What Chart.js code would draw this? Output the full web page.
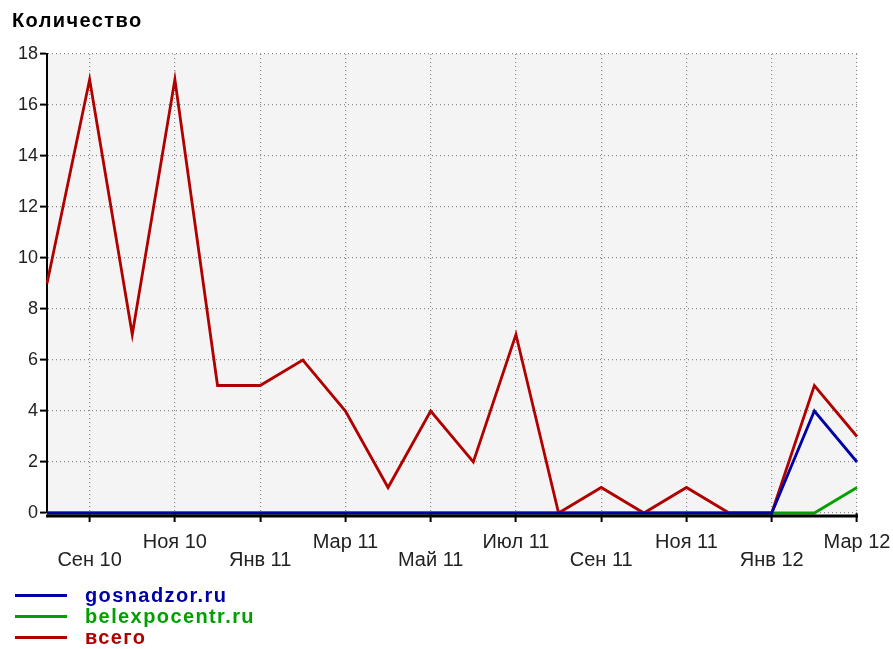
<!DOCTYPE html>
<html>
<head>
<meta charset="utf-8">
<script src="https://cdn.jsdelivr.net/npm/chart.js@4.4.1/dist/chart.umd.min.js"></script>
<style>
  html, body { margin: 0; padding: 0; background: #fff; }
  #wrap { position: relative; width: 893px; height: 649px; }
  #chart { position: absolute; left: 0; top: 0; }
  #title {
    position: absolute; left: 12px; top: 9px;
    font: bold 20px "Liberation Sans", Arial, sans-serif;
    letter-spacing: 1.4px; color: #000;
  }
  #legend { position: absolute; left: 15px; top: 585px; }
  .item { height: 21px; display: flex; align-items: center; }
  .swatch { width: 52px; height: 3px; margin-right: 18px; }
  .label { font: bold 20px "Liberation Sans", Arial, sans-serif; letter-spacing: 1.4px; line-height: 21px; }
</style>
</head>
<body>
<div id="wrap">
  <canvas id="chart" width="893" height="649"></canvas>
  <div id="title">Количество</div>
  <div id="legend"></div>
</div>
<script>
// Monthly counts, Aug 2010 – Mar 2012
const months = ["Авг 10", "Сен 10", "Окт 10", "Ноя 10", "Дек 10", "Янв 11", "Фев 11", "Мар 11", "Апр 11", "Май 11",
                "Июн 11", "Июл 11", "Авг 11", "Сен 11", "Окт 11", "Ноя 11", "Дек 11", "Янв 12", "Фев 12", "Мар 12"];
const gosnadzor    = [0, 0, 0, 0, 0, 0, 0, 0, 0, 0, 0, 0, 0, 0, 0, 0, 0, 0, 4, 2];
const belexpocentr = [0, 0, 0, 0, 0, 0, 0, 0, 0, 0, 0, 0, 0, 0, 0, 0, 0, 0, 0, 1];
const total        = [9, 17, 7, 17, 5, 5, 6, 4, 1, 4, 2, 7, 0, 1, 0, 1, 0, 0, 5, 3];
// Labelled months on the time axis (every second month)
const tickMonths = ["Сен 10", "Ноя 10", "Янв 11", "Мар 11", "Май 11", "Июл 11", "Сен 11", "Ноя 11", "Янв 12", "Мар 12"];
const yTicks = [0, 2, 4, 6, 8, 10, 12, 14, 16, 18];

const seriesNames = ["gosnadzor.ru", "belexpocentr.ru", "всего"];
const seriesColors = ["#0000a8", "#00a000", "#b00000"];
const seriesData = [gosnadzor, belexpocentr, total];

const GRID = "#8c8c8c";
const FONT = "'Liberation Sans', Arial, sans-serif";

// shaded plot area
const plotBg = {
  id: "plotBg",
  beforeDraw(chart) {
    const { ctx, chartArea: a } = chart;
    ctx.save();
    ctx.fillStyle = "#f4f4f4";
    ctx.fillRect(a.left, a.top, a.right - a.left, a.bottom - a.top);
    ctx.restore();
  }
};

// heavy baseline just under the zero level
const baseline = {
  id: "baseline",
  afterDatasetsDraw(chart) {
    const { ctx, chartArea: a } = chart;
    ctx.save();
    ctx.fillStyle = "#000";
    ctx.fillRect(a.left - 1, a.bottom + 1.5, a.right - a.left + 2, 3);
    ctx.restore();
  }
};

const shown = (i) => tickMonths.includes(months[i]);

new Chart(document.getElementById("chart"), {
  type: "line",
  data: {
    labels: months,
    datasets: seriesData.map((d, k) => ({
      label: seriesNames[k],
      data: d,
      borderColor: seriesColors[k],
      backgroundColor: seriesColors[k],
      borderWidth: 2.8,
      pointRadius: 0,
      tension: 0,
      fill: false,
      clip: 4
    }))
  },
  options: {
    responsive: false,
    animation: false,
    layout: { padding: { top: 54, right: 36, bottom: 76, left: 0 } },
    plugins: { legend: { display: false }, tooltip: { enabled: false } },
    scales: {
      x: {
        offset: false,
        afterFit(s) { s.height = 60; s.paddingLeft = 0; s.paddingRight = 0; },
        border: { display: false, dash: [1, 3] },
        grid: {
          color: (c) => (shown(c.index) && c.index !== 0) ? GRID : "rgba(0,0,0,0)",
          tickColor: (c) => shown(c.index) ? "#000" : "rgba(0,0,0,0)",
          tickWidth: 2,
          tickLength: 9,
          lineWidth: 1.2
        },
        ticks: {
          autoSkip: false,
          maxRotation: 0,
          padding: 11,
          color: "#222",
          font: { family: FONT, size: 20, lineHeight: "18px" },
          callback(v, i) {
            const k = tickMonths.indexOf(months[i]);
            if (k < 0) return "";
            return k % 2 === 0 ? ["", months[i]] : [months[i], ""];
          }
        }
      },
      y: {
        min: 0,
        max: 18,
        afterFit(s) { s.width = 47; s.paddingTop = 0; s.paddingBottom = 0; },
        afterBuildTicks(s) { s.ticks = yTicks.map(v => ({ value: v })); },
        border: { color: "#000", width: 2, dash: [1, 3] },
        grid: {
          color: GRID,
          tickColor: "#000",
          tickWidth: 2,
          tickLength: 7,
          lineWidth: 1.2
        },
        ticks: {
          padding: 2,
          color: "#222",
          font: { family: FONT, size: 18 }
        }
      }
    }
  },
  plugins: [plotBg, baseline]
});

// legend rows under the chart
const legend = document.getElementById("legend");
seriesNames.forEach((name, k) => {
  const row = document.createElement("div");
  row.className = "item";
  const sw = document.createElement("div");
  sw.className = "swatch";
  sw.style.background = seriesColors[k];
  const lb = document.createElement("div");
  lb.className = "label";
  lb.style.color = seriesColors[k];
  lb.textContent = name;
  row.appendChild(sw);
  row.appendChild(lb);
  legend.appendChild(row);
});
</script>
</body>
</html>
